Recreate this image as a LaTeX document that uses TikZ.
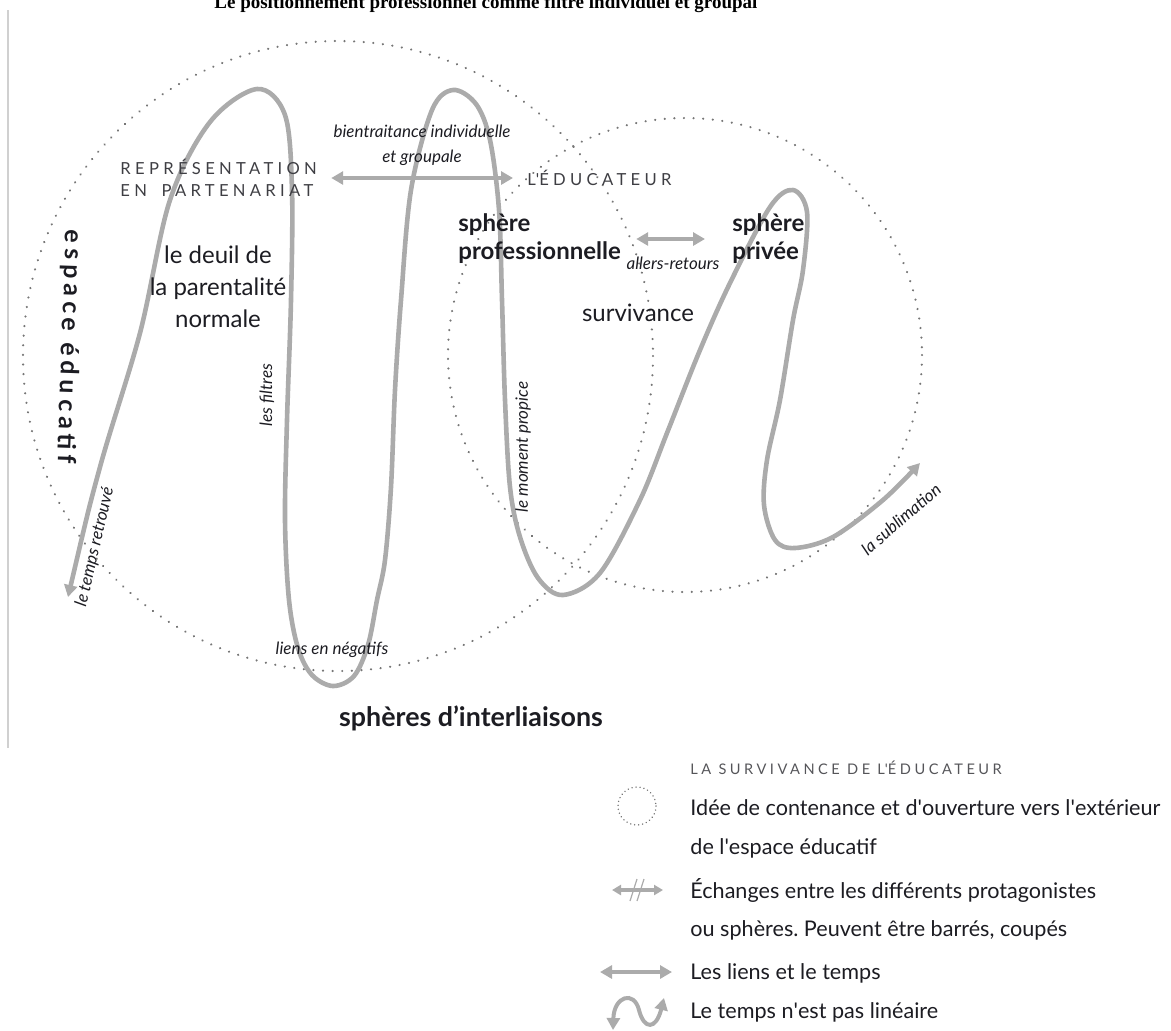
\documentclass[tikz,border=0pt]{standalone}
\usepackage{fontspec}
\setmainfont{Lato}
\newfontfamily\titlefont{Liberation Serif}
\newfontfamily\capsfont[LetterSpace=26]{Lato}
\newfontfamily\spacedbold[LetterSpace=20]{Lato}
\newfontfamily\legendcaps[LetterSpace=24]{Lato}
\usetikzlibrary{arrows.meta}
\frenchspacing

\definecolor{loopgray}{HTML}{ABABAB}
\definecolor{dotgray}{HTML}{767676}
\definecolor{edgegray}{HTML}{D0D0D0}
\definecolor{ink}{HTML}{1C1C22}

\begin{document}
\begin{tikzpicture}[x=0.5pt,y=-0.5pt,
   >={Triangle[length=6pt,width=6.5pt]},
   every node/.style={text=ink, inner sep=0pt},
   halo/.style={draw=dotgray, line width=1.2pt, line cap=round, dash pattern=on 0.01pt off 4.8pt},
   timeline/.style={draw=loopgray, line width=2.3pt, <->},
   link/.style={draw=loopgray, line width=2pt, <->},
   spacedcaps/.style={font=\capsfont\fontsize{8.3}{11}\selectfont, text=ink!85},
   plain/.style={font=\fontsize{12}{16}\selectfont},
   heavy/.style={font=\bfseries\fontsize{12}{14}\selectfont},
   note/.style={font=\itshape\fontsize{8.5}{12.5}\selectfont},
   legendtext/.style={font=\fontsize{10.8}{12}\selectfont, anchor=west}]
   \useasboundingbox (0,0) rectangle (1171,1030);

   % title, cut by the top of the page
   \node[anchor=base west, font=\titlefont\bfseries\fontsize{9.5}{11}\selectfont, text=black] (title) at (214,8)
      {Le positionnement professionnel comme filtre individuel et groupal};
   \draw[draw=edgegray, line width=1pt] (8,10) -- (8,748);

   % the two spaces
   \draw[halo] (338,356) circle (315);
   \draw[halo] (685,355) circle (237);

   % time, drawn as one loop line
   \draw[timeline] plot[smooth, tension=0.55] coordinates {
      (68,597) (100,467) (140,333) (170,200) (210,122) (257,89) (285,115) (292,190)
      (291,300) (287,420) (285,520) (289,600) (298,648) (312,675) (333,686) (354,676)
      (368,645) (377,600) (385,560) (391,487) (395,390) (401,300) (411,190) (432,110)
      (453,90) (476,104) (490,140) (499,210) (502,300) (505,400) (510,487) (520,537)
      (538,578) (563,595) (600,573) (640,500) (667,433) (700,350) (730,283) (770,207)
      (793,190) (807,212) (803,270) (793,320) (780,400) (767,460) (764,505) (775,540)
      (795,548) (833,537) (883,500) (920,463)};

   \node[spacedcaps, align=left, anchor=west] (rep) at (120,178) {REPRÉSENTATION\\EN\hspace{3pt} PARTENARIAT};
   \node[spacedcaps, anchor=west] (edu) at (527,178) {L\textquotesingle ÉDUCATEUR};
   \draw[link] ([xshift=7pt]rep.east) -- ([xshift=-7pt]edu.west);
   \node[note, align=center] (care) at (422,145) {bientraitance individuelle\\et groupale};

   \node[plain, align=center] (mourn) at (218,287) {le deuil de\\la parentalité\\normale};
   \node[heavy, align=left, anchor=west] (pro) at (458,239) {sphère\\professionnelle};
   \node[heavy, align=left, anchor=west] (priv) at (732,239) {sphère\\privée};
   \draw[link, shorten <=7.5pt, shorten >=13.5pt] (pro.east) -- (priv.west);
   \node[note] (trips) at (673,263) {allers-retours};
   \node[plain] (surv) at (638,313) {survivance};

   \node[font=\spacedbold\bfseries\fontsize{12.5}{14}\selectfont, rotate=-92] (space) at (69,347) {espace éducatif};
   \node[note, rotate=77] (found) at (95,547) {le temps retrouvé};
   \node[note, rotate=90] (filt) at (267,395) {les filtres};
   \node[note, rotate=90] (mom) at (523,447) {le moment propice};
   \node[note] (neg) at (332,650) {liens en négatifs};
   \node[note, rotate=41] (subl) at (901,519) {la sublimation};
   \node[font=\bfseries\fontsize{13.4}{15}\selectfont] (inter) at (471,718) {sphères d’interliaisons};

   % legend
   \node[font=\legendcaps\fontsize{7.3}{9}\selectfont, text=ink!75, anchor=west] (lhead) at (690,768)
      {LA SURVIVANCE DE L\textquotesingle ÉDUCATEUR};
   \node[legendtext] (lcirc) at (690,808) {Idée de contenance et d\textquotesingle ouverture vers l\textquotesingle extérieur};
   \node[legendtext] (lcirc2) at (690,848) {de l\textquotesingle espace éducatif};
   \node[legendtext] (lcut) at (690,890) {Échanges entre les différents protagonistes};
   \node[legendtext] (lcut2) at (690,930) {ou sphères. Peuvent être barrés, coupés};
   \node[legendtext] (llink) at (690,973) {Les liens et le temps};
   \node[legendtext] (lwave) at (690,1012) {Le temps n\textquotesingle est pas linéaire};

   \draw[halo, line width=0.8pt, dash pattern=on 0.01pt off 2pt] (637,806) circle (19);
   \coordinate (cutA) at (612,890);
   \coordinate (cutB) at (663,890);
   \draw[link, line width=1.6pt, >={Triangle[length=4.5pt,width=5pt]}] (cutA) -- (cutB);
   \draw[draw=loopgray, line width=0.6pt] (630,901) -- (637,879) (637,901) -- (644,879);
   \coordinate (linkA) at (600,972);
   \coordinate (linkB) at (672,972);
   \draw[link] (linkA) -- (linkB);
   \draw[link] (613,1030) .. controls (614,996) and (634,990) .. (639,1010)
      .. controls (644,1030) and (656,1030) .. (664,998);
\end{tikzpicture}
\end{document}
